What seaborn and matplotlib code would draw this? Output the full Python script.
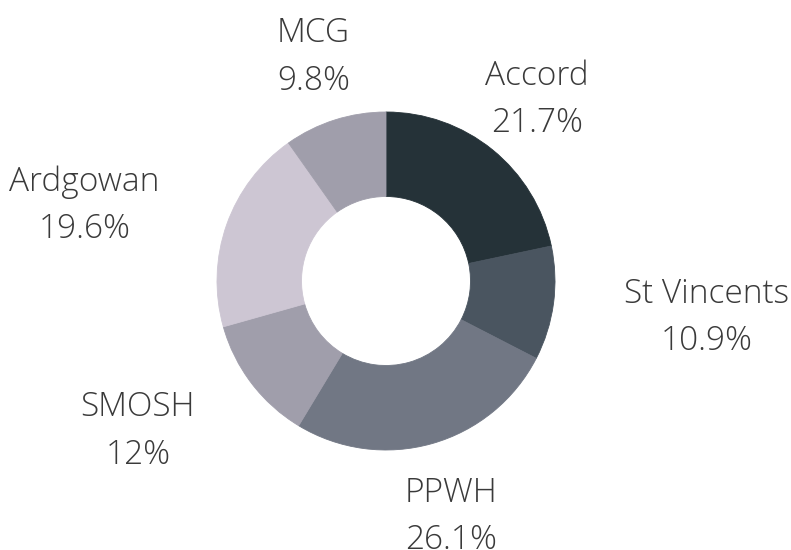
import numpy as np
import matplotlib.pyplot as plt
import matplotlib.transforms as mtransforms
import seaborn as sns

# Share of referrals by service (clockwise from 12 o'clock)
services = ['Accord', 'St Vincents', 'PPWH', 'SMOSH', 'Ardgowan', 'MCG']
shares = [21.7, 10.9, 26.1, 12.0, 19.6, 9.8]
colors = ['#253238', '#4a5560', '#717784', '#a09eab', '#cdc6d3', '#a09eab']

sns.set_theme(style="white")
plt.rcParams['font.family'] = ['Open Sans', 'DejaVu Sans']

W, H, dpi = 791, 550, 100
cx, cy, R = 386, 281, 169  # donut centre and outer radius in pixels

fig = plt.figure(figsize=(W / dpi, H / dpi), dpi=dpi)
ax = fig.add_axes([0, 0, 1, 1])

wedges, _ = ax.pie(shares, colors=colors, startangle=90, counterclock=False,
                   radius=1, frame=True,
                   wedgeprops=dict(width=0.5, linewidth=0))
for w in wedges:
    w.set_edgecolor(w.get_facecolor())
    w.set_linewidth(0.6)
ax.set_xlim(-cx / R, (W - cx) / R)
ax.set_ylim(-(H - cy) / R, cy / R)
ax.set_aspect('auto')
ax.axis('off')

# labels outside the ring at the slice mid-angle
lbl_trans = mtransforms.offset_copy(ax.transData, fig=fig, x=0, y=-5, units='dots')
total = sum(shares)
start = 0.0
label_r = 1.42
for name, val in zip(services, shares):
    mid = (start + val / 2) / total * 2 * np.pi
    start += val
    x, y = label_r * np.sin(mid), label_r * np.cos(mid)
    if abs(np.cos(mid)) < 0.7:
        ha = 'left' if np.sin(mid) > 0 else 'right'
    else:
        ha = 'center'
    ax.text(x, y, f"{name}\n{val:g}%", ha=ha, va='center', multialignment='center',
            fontsize=24, fontweight='light', color='#3a3a3a', linespacing=1.55,
            transform=lbl_trans)

plt.savefig('out.png', dpi=dpi)
